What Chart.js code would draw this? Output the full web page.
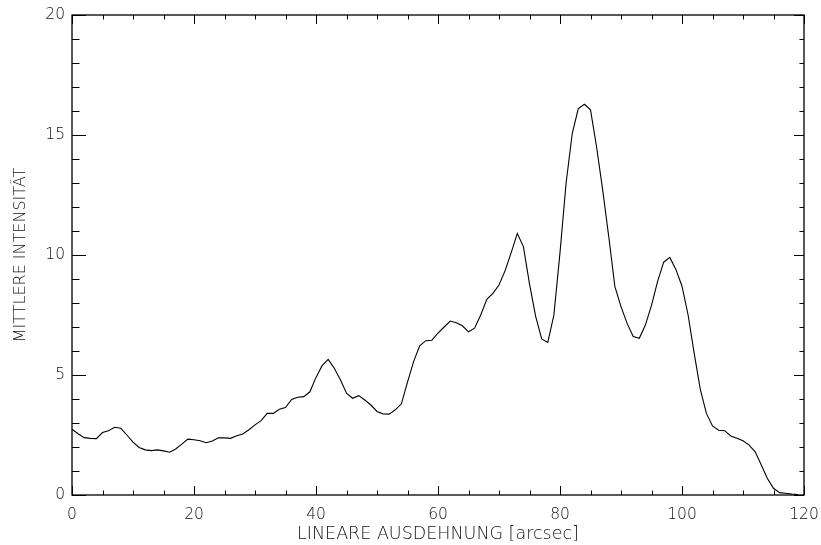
<!DOCTYPE html>
<html>
<head>
<meta charset="utf-8">
<script src="https://cdn.jsdelivr.net/npm/chart.js@4/dist/chart.umd.min.js"></script>
<style>
  html, body { margin: 0; padding: 0; background: #fff; }
  #wrap { width: 821px; height: 545px; position: relative; }
</style>
</head>
<body>
<div id="wrap"><canvas id="chart"></canvas></div>
<script>
// Positions along the slit, in arcsec.
POSITIONS = [
    0, 1, 2, 3, 4, 5, 6, 7, 8, 9,
    10, 11, 12, 13, 14, 15, 16, 17, 18, 19,
    20, 21, 22, 23, 24, 25, 26, 27, 28, 29,
    30, 31, 32, 33, 34, 35, 36, 37, 38, 39,
    40, 41, 42, 43, 44, 45, 46, 47, 48, 49,
    50, 51, 52, 53, 54, 55, 56, 57, 58, 59,
    60, 61, 62, 63, 64, 65, 66, 67, 68, 69,
    70, 71, 72, 73, 74, 75, 76, 77, 78, 79,
    80, 81, 82, 83, 84, 85, 86, 87, 88, 89,
    90, 91, 92, 93, 94, 95, 96, 97, 98, 99,
    100, 101, 102, 103, 104, 105, 106, 107, 108, 109,
    110, 111, 112, 113, 114, 115, 116, 117, 118, 119
];

// Mean intensity at each position.
INTENSITY = [
    2.74, 2.55, 2.39, 2.36, 2.35, 2.60, 2.68, 2.82, 2.78, 2.50,
    2.20, 1.98, 1.88, 1.85, 1.88, 1.84, 1.78, 1.92, 2.12, 2.33,
    2.30, 2.26, 2.18, 2.25, 2.38, 2.38, 2.36, 2.47, 2.54, 2.72,
    2.92, 3.10, 3.40, 3.40, 3.57, 3.64, 3.98, 4.07, 4.10, 4.30,
    4.90, 5.39, 5.65, 5.28, 4.80, 4.24, 4.03, 4.14, 3.96, 3.75,
    3.48, 3.38, 3.37, 3.55, 3.80, 4.70, 5.56, 6.22, 6.43, 6.45,
    6.75, 7.00, 7.25, 7.18, 7.05, 6.80, 6.95, 7.50, 8.15, 8.40,
    8.75, 9.35, 10.10, 10.90, 10.35, 8.80, 7.45, 6.50, 6.36, 7.50,
    10.10, 13.00, 15.05, 16.10, 16.28, 16.05, 14.50, 12.70, 10.75, 8.68,
    7.85, 7.15, 6.60, 6.53, 7.08, 7.90, 8.90, 9.70, 9.90, 9.40,
    8.70, 7.50, 5.90, 4.40, 3.40, 2.88, 2.70, 2.68, 2.46, 2.36,
    2.26, 2.08, 1.80, 1.25, 0.69, 0.28, 0.10, 0.07, 0.04, 0.02
];

// Axis ranges and tick spacing.
X_MIN = 0;
X_MAX = 120;
X_MAJOR = 20;
X_MINOR = 5;
Y_MIN = 0;
Y_MAX = 20;
Y_MAJOR = 5;
Y_MINOR = 1;

TEXT_FONT = 'DejaVu Sans';
TEXT_COLOR = '#111';

// IDL style frame: box around the plot with ticks pointing inwards on every side.
const frameTicks = {
    id: 'frameTicks',
    afterDatasetsDraw(chart) {
        const ctx = chart.ctx;
        const a = chart.chartArea;
        const xs = chart.scales.x;
        const ys = chart.scales.y;
        ctx.save();
        ctx.strokeStyle = '#000';
        ctx.lineWidth = 1.3;
        ctx.strokeRect(a.left, a.top, a.right - a.left, a.bottom - a.top);
        ctx.lineWidth = 1;
        ctx.beginPath();
        for (let v = X_MIN; v <= X_MAX; v += X_MINOR) {
            const px = Math.round(xs.getPixelForValue(v)) + 0.5;
            const major = v % X_MAJOR == 0;
            const len = major ? 9 : 4.5;
            ctx.moveTo(px, a.bottom);
            ctx.lineTo(px, a.bottom - len);
            ctx.moveTo(px, a.top);
            ctx.lineTo(px, a.top + len);
        }
        for (let v = Y_MIN; v <= Y_MAX; v += Y_MINOR) {
            const py = Math.round(ys.getPixelForValue(v)) + 0.5;
            const major = v % Y_MAJOR == 0;
            ctx.moveTo(a.left, py);
            ctx.lineTo(a.left + (major ? 14 : 7.5), py);
            ctx.moveTo(a.right, py);
            ctx.lineTo(a.right - (major ? 10 : 4.5), py);
        }
        ctx.stroke();
        ctx.restore();
    }
};

Chart.defaults.font.family = TEXT_FONT;
Chart.defaults.color = TEXT_COLOR;

const ctx = document.getElementById('chart').getContext('2d');
const points = POSITIONS.map((x, i) => ({ x: x, y: INTENSITY[i] }));

new Chart(ctx, {
    type: 'line',
    data: {
        datasets: [{
            label: 'Mittlere Intensität',
            data: points,
            borderColor: '#000',
            borderWidth: 1.1,
            pointRadius: 0,
            tension: 0,
            fill: false,
        }]
    },
    options: {
        responsive: true,
        maintainAspectRatio: false,
        animation: false,
        layout: { padding: 0 },
        scales: {
            x: {
                type: 'linear',
                min: X_MIN,
                max: X_MAX,
                border: { display: false },
                grid: { display: false, drawTicks: false },
                ticks: {
                    stepSize: X_MAJOR,
                    padding: 11,
                    maxRotation: 0,
                    font: { size: 15.5, weight: 200 },
                    color: TEXT_COLOR,
                },
                title: {
                    display: true,
                    text: 'LINEARE AUSDEHNUNG [arcsec]',
                    font: { size: 17.5, weight: 200 },
                    color: TEXT_COLOR,
                    padding: { top: 0, bottom: 0 },
                },
                afterFit(scale) {
                    // Pin the plot frame where the original has it.
                    scale.height = 50;
                    scale.paddingLeft = 0;
                    scale.paddingRight = 17;
                },
            },
            y: {
                min: Y_MIN,
                max: Y_MAX,
                border: { display: false },
                grid: { display: false, drawTicks: false },
                ticks: {
                    stepSize: Y_MAJOR,
                    padding: 7,
                    font: { size: 15.5, weight: 200 },
                    color: TEXT_COLOR,
                },
                title: {
                    display: true,
                    text: 'MITTLERE INTENSITÄT',
                    font: { size: 16, weight: 200 },
                    color: TEXT_COLOR,
                    padding: { top: 11, bottom: 0 },
                },
                afterFit(scale) {
                    scale.width = 72;
                    scale.paddingTop = 15;
                    scale.paddingBottom = 0;
                },
            },
        },
        plugins: {
            legend: { display: false },
            tooltip: { enabled: false },
        },
    },
    plugins: [frameTicks],
});
</script>
</body>
</html>
